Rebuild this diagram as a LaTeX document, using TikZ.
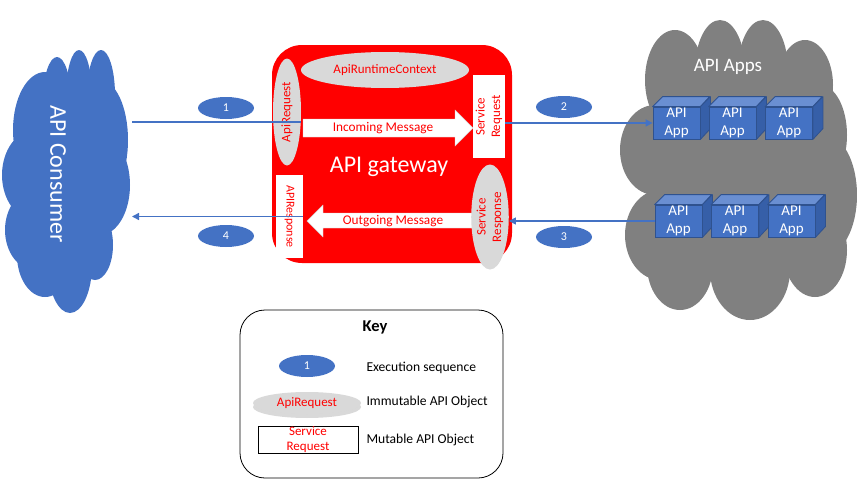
\documentclass[tikz,border=0pt]{standalone}
\usepackage{fontspec}
\setmainfont{Carlito}
\usetikzlibrary{shapes.geometric,arrows.meta,shadows}
\definecolor{cblue}{HTML}{4472C4}
\definecolor{ctop}{HTML}{6A8FD2}
\definecolor{cside}{HTML}{365FA8}
\definecolor{cedge}{HTML}{2F528F}
\definecolor{cgray}{HTML}{808080}
\definecolor{ltgray}{HTML}{D9D9D9}
\begin{document}
\begin{tikzpicture}[x=1pt,y=-1pt,
  seqnum/.style={ellipse, fill=cblue, minimum width=56pt, minimum height=22pt, inner sep=0pt, text=white, font=\fontsize{12}{14}\selectfont},
  immut/.style={ellipse, fill=ltgray, inner sep=0pt, text=red, font=\fontsize{13}{15}\selectfont},
  mutbox/.style={rectangle, fill=white, inner sep=0pt, text=red, align=center, font=\fontsize{13}{15.5}\selectfont},
  appbox/.style={rectangle, fill=cblue, draw=cedge, line width=0.8pt, minimum width=47pt, minimum height=32pt, inner sep=0pt, text=white, align=center, font=\fontsize{15}{18}\selectfont},
  conn/.style={draw=cblue, line width=1.5pt},
  tip/.style={-{Triangle[length=7pt,width=7pt]}},
  blockarrow/.style={fill=white, draw=gray!35, line width=0.4pt},
  region/.style={rectangle, inner sep=0pt}
]
\useasboundingbox (0,0) rectangle (857,479);

% right cloud (API Apps)
\node[region, minimum width=237pt, minimum height=300pt] (apps) at (738,170) {};
\foreach \cx/\cy/\rx/\ry in {675/80/30/50, 720/70/25/50, 763/70/25/50, 805/85/28/45, 820/135/27/50, 825/195/32/60, 815/250/32/47, 750/270/40/50, 680/265/33/45, 655/150/35/45, 660/235/35/45, 737/170/90/110}
  \fill[cgray] (\cx,\cy) ellipse [x radius=\rx, y radius=\ry];
\node[text=white, font=\fontsize{19}{22}\selectfont] (appstitle) at (728,67) {API Apps};

% left cloud (API Consumer)
\node[region, minimum width=128pt, minimum height=263pt] (consumer) at (66,182) {};
\foreach \cx/\cy/\rx/\ry in {57/100/14/43, 79/95/13/45, 101/95/14/45, 45/130/32/58, 100/140/28/60, 35/175/33/45, 100/185/30/50, 35/230/30/40, 45/255/28/42, 70/265/22/48, 95/245/18/35, 66/180/50/90}
  \fill[cblue] (\cx,\cy) ellipse [x radius=\rx, y radius=\ry];
\node[rotate=-90, text=white, font=\fontsize{24}{28}\selectfont] (consumertext) at (58,174) {API Consumer};

% gateway
\node[rectangle, fill=red, rounded corners=30pt, minimum width=240pt, minimum height=218pt, inner sep=0pt] (gateway) at (392,154) {};
\node[text=white, font=\fontsize{24}{28}\selectfont] (gwtext) at (389,167) {API gateway};

% block arrows
\draw[blockarrow] (303,119) -- (455,119) -- (455,110) -- (473,128) -- (455,146) -- (455,137) -- (303,137) -- cycle;
\node[text=red, font=\fontsize{13.3}{15}\selectfont] (inmsg) at (383,128) {Incoming Message};
\draw[blockarrow] (473,213) -- (323,213) -- (323,205) -- (307,221) -- (323,237) -- (323,228) -- (473,228) -- cycle;
\node[text=red, font=\fontsize{13.3}{15}\selectfont] (outmsg) at (393,221) {Outgoing Message};

% gateway objects
\node[immut, minimum width=168pt, minimum height=36pt] (ctx) at (385,70) {ApiRuntimeContext};
\node[immut, rotate=90, minimum width=107pt, minimum height=28pt] (apireq) at (287,112) {ApiRequest};
\node[mutbox, rotate=90, minimum width=83pt, minimum height=32pt] (srvreq) at (489,116.5) {Service\\Request};
\node[mutbox, rotate=-90, minimum width=83pt, minimum height=27pt, font=\fontsize{12}{15}\selectfont] (apiresp) at (289.5,216.5) {APIResponse};
\node[immut, rotate=90, align=center, minimum width=105pt, minimum height=33pt, font=\fontsize{13}{15.5}\selectfont] (srvresp) at (490,217) {Service\\Response};

% API app cubes
\foreach \n/\cx/\cy in {app1/676.5/123, app2/732.5/123, app3/789/123, app4/678.5/221, app5/735/221, app6/791.5/221}{
  \node[appbox] (\n) at (\cx,\cy) {API\\App};
  \draw[fill=ctop, draw=cedge, line width=0.8pt, line join=round] (\n.north west) -- ++(10,-10) -- ++(47,0) -- (\n.north east) -- cycle;
  \draw[fill=cside, draw=cedge, line width=0.8pt, line join=round] (\n.north east) -- ++(10,-10) -- ++(0,32) -- (\n.south east) -- cycle;
}

% connectors
\coordinate (c1) at (132,122);
\coordinate (c4) at (132,216.5);
\draw[conn] (c1) -- (c1 -| apireq.south);
\draw[conn, tip] (srvreq.south |- app1.west) -- (app1.west);
\draw[conn, tip] (app4.west) -- (app4.west -| srvresp.south);
\draw[conn, tip] (apiresp.north) -- (c4);

% sequence numbers
\node[seqnum] (s1) at (226,108) {1};
\node[seqnum] (s2) at (564,107) {2};
\node[seqnum] (s3) at (564,237) {3};
\node[seqnum] (s4) at (226,236) {4};

% key
\node[draw=black, line width=0.8pt, rounded corners=25pt, minimum width=263pt, minimum height=168pt, inner sep=0pt] (keybox) at (371.5,394) {};
\node[font=\bfseries\fontsize{16.5}{19}\selectfont] (keytitle) at (375,327) {Key};
\node[seqnum] (k1) at (307,366) {1};
\node[immut, minimum width=108pt, minimum height=22pt, drop shadow={shadow xshift=0pt, shadow yshift=-4pt, opacity=0.3}] (k2) at (307,403) {ApiRequest};
\node[mutbox, draw=black, line width=0.8pt, minimum width=100pt, minimum height=27pt] (k3) at (308,439.5) {Service\\Request};
\node[anchor=west, font=\fontsize{13.6}{15}\selectfont] (k1t) at (363,368) {Execution sequence};
\node[anchor=west, font=\fontsize{13.6}{15}\selectfont] (k2t) at (363,402) {Immutable API Object};
\node[anchor=west, font=\fontsize{13.6}{15}\selectfont] (k3t) at (363,440) {Mutable API Object};
\end{tikzpicture}
\end{document}
